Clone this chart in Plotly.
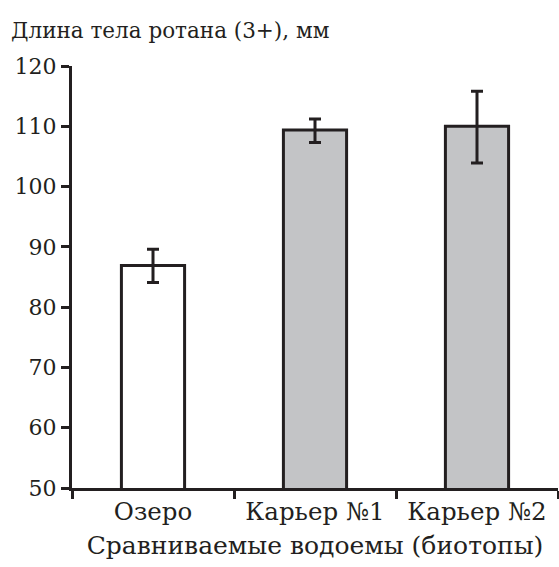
import plotly.graph_objects as go

# Mean body length of rotan (age 3+) per water body, with error ranges
categories = ["Озеро", "Карьер №1", "Карьер №2"]
means = [86.9, 109.4, 110.0]
err_plus = [2.7, 1.8, 5.8]
err_minus = [2.8, 2.1, 6.1]
bar_colors = ["#ffffff", "#c3c4c6", "#c3c4c6"]

y_ticks = [50, 60, 70, 80, 90, 100, 110, 120]

ink = "#231f20"
font_family = "DejaVu Serif"

fig = go.Figure(
    go.Bar(
        x=categories,
        y=means,
        marker=dict(color=bar_colors, line=dict(color=ink, width=3)),
        width=0.39,
        error_y=dict(
            type="data",
            symmetric=False,
            array=err_plus,
            arrayminus=err_minus,
            color=ink,
            thickness=3,
            width=6,
        ),
    )
)

fig.update_layout(
    width=559,
    height=567,
    margin=dict(l=72, r=1, t=66, b=79),
    plot_bgcolor="white",
    paper_bgcolor="white",
    showlegend=False,
    font=dict(family=font_family, size=22, color=ink),
    annotations=[
        dict(
            text="Длина тела ротана (3+), мм",
            xref="paper", yref="paper",
            x=-72 / 486, y=1.085,
            xanchor="left", yanchor="middle",
            showarrow=False,
            xshift=9,
            font=dict(family=font_family, size=21.5, color=ink),
        )
    ],
)

fig.update_yaxes(
    range=[50, 120],
    tickvals=y_ticks,
    showgrid=False,
    zeroline=False,
    showline=True,
    linecolor=ink,
    linewidth=3,
    ticks="outside",
    ticklen=8,
    tickwidth=3,
    tickcolor=ink,
    tickfont=dict(family=font_family, size=22, color=ink),
)

fig.update_xaxes(
    showgrid=False,
    showline=True,
    linecolor=ink,
    linewidth=3,
    ticks="outside",
    tickson="boundaries",
    ticklen=8,
    tickwidth=3,
    tickcolor=ink,
    tickfont=dict(family=font_family, size=24.5, color=ink),
    title=dict(
        text="Сравниваемые водоемы (биотопы)",
        font=dict(family=font_family, size=25, color=ink),
        standoff=12,
    ),
)

fig.write_html("out.html")
